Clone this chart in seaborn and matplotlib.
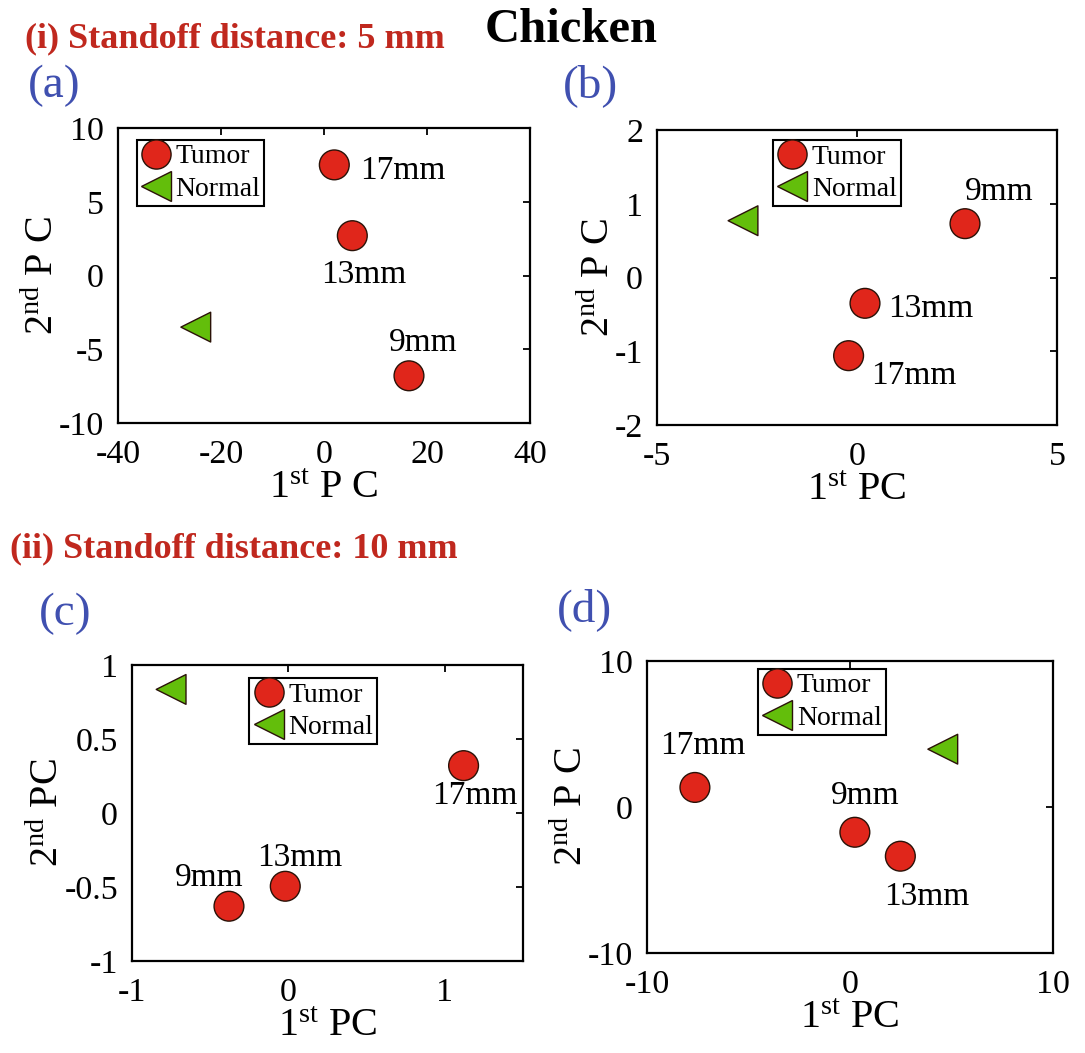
import matplotlib
matplotlib.use("Agg")
import matplotlib.pyplot as plt
import seaborn as sns
import pandas as pd
from matplotlib.lines import Line2D

# ---------------- data ----------------
# (a) standoff 5 mm
a_tumor_labels = ["17mm", "13mm", "9mm"]
a_tumor_x = [2.0, 5.5, 16.5]
a_tumor_y = [7.5, 2.7, -6.8]
a_normal_x = [-24.9]
a_normal_y = [-3.5]

# (b) standoff 5 mm
b_tumor_labels = ["9mm", "13mm", "17mm"]
b_tumor_x = [2.70, 0.20, -0.21]
b_tumor_y = [0.73, -0.35, -1.06]
b_normal_x = [-2.85]
b_normal_y = [0.77]

# (c) standoff 10 mm
c_tumor_labels = ["17mm", "13mm", "9mm"]
c_tumor_x = [1.12, -0.02, -0.38]
c_tumor_y = [0.32, -0.495, -0.63]
c_normal_x = [-0.75]
c_normal_y = [0.835]

# (d) standoff 10 mm
d_tumor_labels = ["17mm", "9mm", "13mm"]
d_tumor_x = [-7.64, 0.24, 2.48]
d_tumor_y = [1.34, -1.73, -3.37]
d_normal_x = [4.57]
d_normal_y = [3.96]

a_xticks = [-40, -20, 0, 20, 40]
a_yticks = [-10, -5, 0, 5, 10]
b_xticks = [-5, 0, 5]
b_yticks = [-2, -1, 0, 1, 2]
c_xticks = [-1, 0, 1]
c_yticks = [-1, -0.5, 0, 0.5, 1]
d_xticks = [-10, 0, 10]
d_yticks = [-10, 0, 10]

a_xticklabels = ["-40", "-20", "0", "20", "40"]
a_yticklabels = ["-10", "-5", "0", "5", "10"]
b_xticklabels = ["-5", "0", "5"]
b_yticklabels = ["-2", "-1", "0", "1", "2"]
c_xticklabels = ["-1", "0", "1"]
c_yticklabels = ["-1", "-0.5", "0", "0.5", "1"]
d_xticklabels = ["-10", "0", "10"]
d_yticklabels = ["-10", "0", "10"]

# ---------------- style ----------------
sns.set_theme(style="white")
plt.rcParams["font.family"] = ["Liberation Serif", "DejaVu Serif"]
plt.rcParams["mathtext.fontset"] = "custom"
plt.rcParams["mathtext.rm"] = "Liberation Serif"
plt.rcParams["mathtext.it"] = "Liberation Serif:italic"
plt.rcParams["mathtext.default"] = "regular"
plt.rcParams["axes.unicode_minus"] = False
plt.rcParams["text.color"] = "black"
plt.rcParams["axes.labelcolor"] = "black"
plt.rcParams["xtick.color"] = "black"
plt.rcParams["ytick.color"] = "black"

TUMOR = "#E0261B"
NORMAL = "#63BE0B"
EDGE = "#2a1208"
BLUE = "#4050B0"
RED = "#C0281E"

fig = plt.figure(figsize=(10.85, 10.53), dpi=100)
W, H = 1085, 1053


def box(x0, y0, x1, y1):
    return [x0 / W, 1 - y1 / H, (x1 - x0) / W, (y1 - y0) / H]


panels = [
    dict(rect=box(118, 128, 530, 423), tx=a_tumor_x, ty=a_tumor_y, tl=a_tumor_labels,
         nx=a_normal_x, ny=a_normal_y, xlim=(-40, 40), ylim=(-10, 10),
         xt=a_xticks, yt=a_yticks, xtl=a_xticklabels, ytl=a_yticklabels,
         xlabel=r"1$^{st}$ P C", ylabel=r"2$^{nd}$ P C", leg=(0.045, 0.96),
         offs=[(69, -6), (11, -39), (14, 33)]),
    dict(rect=box(657, 130, 1057, 425), tx=b_tumor_x, ty=b_tumor_y, tl=b_tumor_labels,
         nx=b_normal_x, ny=b_normal_y, xlim=(-5, 5), ylim=(-2, 2),
         xt=b_xticks, yt=b_yticks, xtl=b_xticklabels, ytl=b_yticklabels,
         xlabel=r"1$^{st}$ PC", ylabel=r"2$^{nd}$ P C", leg=(0.29, 0.966),
         offs=[(34, 32), (66, -5), (65, -20)]),
    dict(rect=box(132, 665, 523, 961), tx=c_tumor_x, ty=c_tumor_y, tl=c_tumor_labels,
         nx=c_normal_x, ny=c_normal_y, xlim=(-1, 1.5), ylim=(-1, 1),
         xt=c_xticks, yt=c_yticks, xtl=c_xticklabels, ytl=c_yticklabels,
         xlabel=r"1$^{st}$ PC", ylabel=r"2$^{nd}$ PC", leg=(0.30, 0.956),
         offs=[(11, -30), (14, 29), (-20, 28)]),
    dict(rect=box(647, 661, 1053, 953), tx=d_tumor_x, ty=d_tumor_y, tl=d_tumor_labels,
         nx=d_normal_x, ny=d_normal_y, xlim=(-10, 10), ylim=(-10, 10),
         xt=d_xticks, yt=d_yticks, xtl=d_xticklabels, ytl=d_yticklabels,
         xlabel=r"1$^{st}$ PC", ylabel=r"2$^{nd}$ P C", leg=(0.273, 0.973),
         offs=[(8, 42), (10, 37), (26, -41)]),
]

for p in panels:
    ax = fig.add_axes(p["rect"])
    df = pd.DataFrame({
        "x": list(p["tx"]) + list(p["nx"]),
        "y": list(p["ty"]) + list(p["ny"]),
        "cls": ["Tumor"] * len(p["tx"]) + ["Normal"] * len(p["nx"]),
    })
    sns.scatterplot(data=df, x="x", y="y", hue="cls", style="cls",
                    palette={"Tumor": TUMOR, "Normal": NORMAL},
                    markers={"Tumor": "o", "Normal": "<"},
                    s=460, edgecolor=EDGE, linewidth=1.0, legend=False, ax=ax, zorder=3)
    for lbl, x, y, off in zip(p["tl"], p["tx"], p["ty"], p["offs"]):
        ax.annotate(lbl, (x, y), xytext=off, textcoords="offset pixels",
                    ha="center", va="center", fontsize=24)
    ax.set_xlim(*p["xlim"])
    ax.set_ylim(*p["ylim"])
    ax.set_xticks(p["xt"])
    ax.set_yticks(p["yt"])
    ax.set_xticklabels(p["xtl"])
    ax.set_yticklabels(p["ytl"])
    ax.tick_params(direction="in", length=5, width=1.3, top=True, right=True,
                   labelsize=24.5)
    ax.tick_params(axis="x", pad=12)
    ax.tick_params(axis="y", pad=10)
    for s in ax.spines.values():
        s.set_visible(True)
        s.set_color("black")
        s.set_linewidth(1.6)
    ax.set_xlabel(p["xlabel"], fontsize=29, labelpad=0)
    ax.set_ylabel(p["ylabel"], fontsize=29, labelpad=-2)
    handles = [
        Line2D([], [], ls="none", marker="o", markersize=21, markerfacecolor=TUMOR,
               markeredgecolor=EDGE, markeredgewidth=1.0, label="Tumor"),
        Line2D([], [], ls="none", marker="<", markersize=22, markerfacecolor=NORMAL,
               markeredgecolor=EDGE, markeredgewidth=1.0, label="Normal"),
    ]
    leg = ax.legend(handles=handles, loc="upper left", bbox_to_anchor=p["leg"],
                    borderaxespad=0, fontsize=20, frameon=True, fancybox=False,
                    framealpha=1, edgecolor="black", handlelength=1.1,
                    handletextpad=0.15, borderpad=0.15, labelspacing=0.25)
    leg.get_frame().set_linewidth(1.5)

# figure texts
fig.text(571 / W, 1 - 42 / H, "Chicken", ha="center", va="baseline",
         fontsize=35, fontweight="bold", color="black")
fig.text(25 / W, 1 - 47 / H, "(i) Standoff distance: 5 mm", ha="left", va="baseline",
         fontsize=26, fontweight="bold", color=RED)
fig.text(10 / W, 1 - 557 / H, "(ii) Standoff distance: 10 mm", ha="left", va="baseline",
         fontsize=26, fontweight="bold", color=RED)
fig.text(28 / W, 1 - 86 / H, "(a)", ha="left", va="center", fontsize=34, color=BLUE)
fig.text(563 / W, 1 - 86 / H, "(b)", ha="left", va="center", fontsize=34, color=BLUE)
fig.text(39 / W, 1 - 614 / H, "(c)", ha="left", va="center", fontsize=34, color=BLUE)
fig.text(557 / W, 1 - 610 / H, "(d)", ha="left", va="center", fontsize=34, color=BLUE)

fig.savefig("out.png", dpi=100)
